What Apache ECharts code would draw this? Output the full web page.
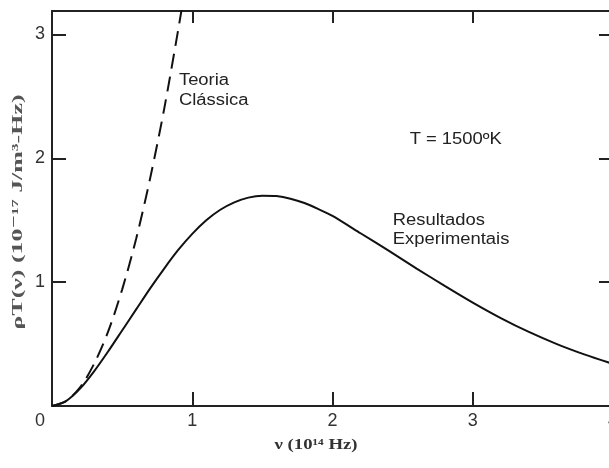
<!DOCTYPE html>
<html>
<head>
<meta charset="utf-8">
<script src="https://cdn.jsdelivr.net/npm/echarts@6/dist/echarts.min.js"></script>
<style>html,body{margin:0;padding:0;background:#fff}#c{width:609px;height:468px}</style>
</head>
<body>
<div id="c"></div>
<script>
// Data
var xTicks = [0, 1, 2, 3, 4];
var yTicks = [0, 1, 2, 3];
var experimentalX = [0, 0.1, 0.2, 0.3, 0.4, 0.5, 0.6, 0.7, 0.8, 0.9, 1.0, 1.1, 1.2, 1.3, 1.4, 1.5, 1.6, 1.7, 1.8, 1.9, 2.0, 2.2, 2.4, 2.6, 2.8, 3.0, 3.2, 3.4, 3.6, 3.8, 4.0];
var experimentalY = [0, 0.04, 0.14, 0.28, 0.44, 0.61, 0.78, 0.95, 1.11, 1.26, 1.39, 1.50, 1.585, 1.645, 1.683, 1.698, 1.695, 1.674, 1.639, 1.59, 1.535, 1.395, 1.255, 1.11, 0.97, 0.835, 0.71, 0.598, 0.50, 0.415, 0.34];
var classicalX = [0, 0.1, 0.2, 0.3, 0.4, 0.5, 0.6, 0.7, 0.8, 0.9, 0.95];
var classicalY = [0, 0.04, 0.15, 0.34, 0.60, 0.94, 1.35, 1.84, 2.40, 3.04, 3.38];
var labelTexts = ['Teoria', 'Clássica', 'T = 1500ºK', 'Resultados', 'Experimentais'];
var labelX = [0.905, 0.905, 2.55, 2.43, 2.43];
var labelY = [2.63, 2.47, 2.15, 1.50, 1.34];

var Y_MAX = 3.19;

function pairs(xs, ys) { return xs.map(function (x, i) { return [x, ys[i]]; }); }
function measure(text, font) {
  var c = document.createElement('canvas').getContext('2d');
  c.font = font;
  return c.measureText(text).width;
}

var chart = echarts.init(document.getElementById('c'), null, {renderer: 'canvas'});
var axisLineStyle = {color: '#222', width: 2};
var tickStyle = {color: '#222', width: 2};
var tickFont = {fontSize: 18, color: '#333', fontFamily: 'Liberation Sans, Arial'};
function intLabel(v) { return (v === 0 || Math.abs(v - Math.round(v)) > 1e-9) ? '' : String(v); }

var option = {
  backgroundColor: '#ffffff',
  animation: false,
  grid: {left: 52, top: 11, bottom: 62, right: -4, containLabel: false, outerBoundsMode: 'none'},
  xAxis: [{
    type: 'value', position: 'bottom', min: 0, max: 4, interval: 1,
    axisLine: {show: true, onZero: false, lineStyle: axisLineStyle},
    axisTick: {show: true, inside: true, length: 14, lineStyle: tickStyle},
    axisLabel: Object.assign({margin: 6, formatter: intLabel, hideOverlap: false}, tickFont),
    splitLine: {show: false}
  }, {
    type: 'value', position: 'top', min: 0, max: 4, interval: 1,
    axisLine: {show: true, onZero: false, lineStyle: axisLineStyle},
    axisTick: {show: true, inside: true, length: 12, lineStyle: tickStyle},
    axisLabel: {show: false}, splitLine: {show: false}
  }],
  yAxis: [{
    type: 'value', position: 'left', min: 0, max: Y_MAX, interval: 1,
    axisLine: {show: true, onZero: false, lineStyle: axisLineStyle},
    axisTick: {show: true, inside: true, length: 14, lineStyle: tickStyle},
    axisLabel: Object.assign({margin: 7, formatter: intLabel, showMaxLabel: false}, tickFont),
    splitLine: {show: false}
  }, {
    type: 'value', position: 'right', min: 0, max: Y_MAX, interval: 1,
    axisLine: {show: true, onZero: false, lineStyle: axisLineStyle},
    axisTick: {show: true, inside: true, length: 14, lineStyle: tickStyle},
    axisLabel: {show: false}, splitLine: {show: false}
  }],
  series: [{
    type: 'line', name: 'Resultados Experimentais', data: pairs(experimentalX, experimentalY),
    smooth: 0.25, showSymbol: false, clip: true,
    lineStyle: {color: '#111', width: 2}
  }, {
    type: 'line', name: 'Teoria Clássica', data: pairs(classicalX, classicalY),
    smooth: 0.3, showSymbol: false, clip: true,
    lineStyle: {color: '#111', width: 2, type: [15, 8]}
  }]
};
chart.setOption(option);

// Annotations placed through the chart's own coordinate system
var annFont = '16px "Liberation Sans", Arial';
var graphics = labelTexts.map(function (t, i) {
  var p = chart.convertToPixel({gridIndex: 0}, [labelX[i], labelY[i]]);
  return {
    type: 'text', x: p[0], y: p[1], scaleX: 1.15, silent: true,
    style: {text: t, font: annFont, fill: '#222', align: 'left', verticalAlign: 'middle'}
  };
});
// Origin "0" label (sits below-left of the corner in the reference)
var o = chart.convertToPixel({gridIndex: 0}, [0, 0]);
graphics.push({type: 'text', x: o[0] - 12, y: o[1] + 15, silent: true,
  style: {text: '0', font: '18px "Liberation Sans", Arial', fill: '#333', align: 'center', verticalAlign: 'middle'}});

// Axis titles
var serifFont = 'bold 15px "Liberation Serif", "DejaVu Serif", serif';
var xName = 'ν (10¹⁴ Hz)';
var xw = measure(xName, serifFont);
graphics.push({type: 'text', x: 316, y: 445, scaleX: 83 / xw, silent: true,
  style: {text: xName, font: serifFont, fill: '#333', align: 'center', verticalAlign: 'middle'}});
var yName = 'ρT(ν) (10⁻¹⁷ J/m³-Hz)';
var yw = measure(yName, serifFont);
graphics.push({type: 'text', x: 18, y: 212, rotation: Math.PI / 2, scaleX: 235 / yw, silent: true,
  style: {text: yName, font: serifFont, fill: '#555', align: 'center', verticalAlign: 'middle'}});

chart.setOption({graphic: graphics});
</script>
</body>
</html>
